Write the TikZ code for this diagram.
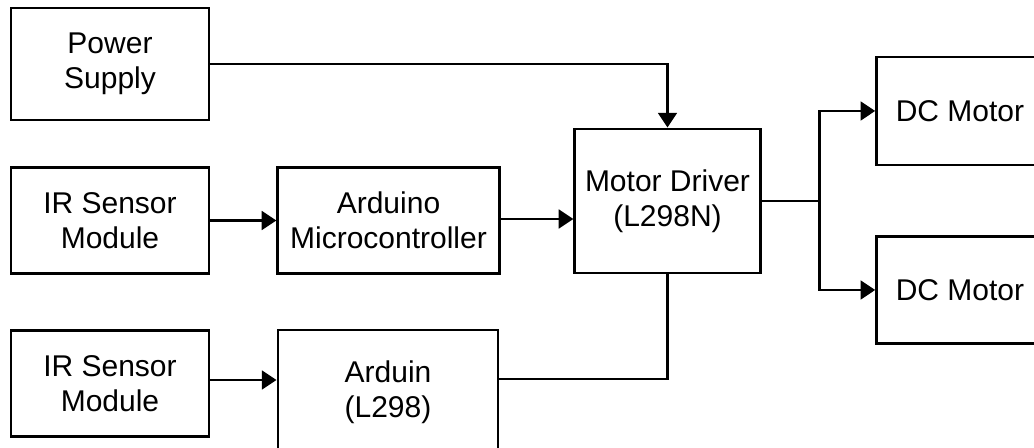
\documentclass[tikz,border=0pt]{standalone}
\usepackage{fontspec}
\setmainfont{Liberation Sans}
\usepackage{tikz}
\usetikzlibrary{arrows.meta}
\usetikzlibrary{calc}
\usetikzlibrary{positioning}

\begin{document}
\begin{tikzpicture}[x=0.75pt, y=-0.75pt,
            block/.style={draw, line width=2.2pt, align=center, inner sep=0pt,
                font=\fontsize{22.5}{26}\selectfont},
            link/.style={line width=2.2pt},
            arr/.style={line width=2.2pt, -{Triangle[length=11pt, width=14pt]}}]
            \useasboundingbox (0,0) rectangle (1034,448);
            \draw (110,64) node[block, minimum width=148.5pt, minimum height=84pt]      (power) {Power\\Supply};
            \draw (110,220.5) node[block, minimum width=148.5pt, minimum height=80pt]   (ir1) {IR Sensor\\Module};
            \draw (388.5,220.5) node[block, minimum width=166pt, minimum height=80pt]   (ard1) {Arduino\\Microcontroller};
            \draw (110,383.5) node[block, minimum width=148.5pt, minimum height=80pt]   (ir2) {IR Sensor\\Module};
            \draw (388,392) node[block, minimum width=165pt, minimum height=93pt]       (ard2) {Arduin\\(L298)};
            \draw (667.5,201) node[block, minimum width=139pt, minimum height=108pt]    (driver) {Motor Driver\\(L298N)};
            \draw (960,111) node[block, minimum width=125pt, minimum height=81pt]       (dc1) {DC Motor};
            \draw (960,290) node[block, minimum width=125pt, minimum height=80pt]       (dc2) {DC Motor};
            \coordinate (split) at ($(driver.east)+(58,0)$);
            \coordinate (a1out) at ($(ard1.east)+(0,-1.5)$);
            \coordinate (i2out) at ($(ir2.east)+(0,-3.5)$);
            \coordinate (a2out) at ($(ard2.east)+(0,-13)$);
            \draw[arr] (power.east) -| (driver.north);
            \draw[arr] (ir1.east) -- (ard1.west);
            \draw[arr] (a1out) -- (a1out -| driver.west);
            \draw[arr] (i2out) -- (i2out -| ard2.west);
            \draw[link] (a2out) -| (driver.south);
            \draw[link] (driver.east) -- (split);
            \draw[arr] (split) |- (dc1.west);
            \draw[arr] (split) |- (dc2.west);

            \end{tikzpicture}
\end{document}
